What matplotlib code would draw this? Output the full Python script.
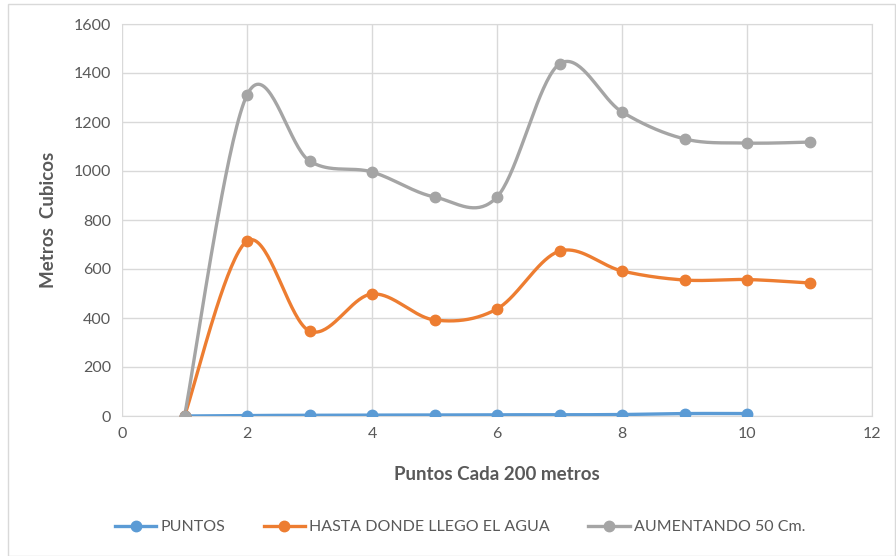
import numpy as np
import matplotlib.pyplot as plt
from matplotlib.patches import Rectangle

plt.rcParams['font.family'] = ['Lato', 'DejaVu Sans']

puntos = [1, 2, 3, 4, 5, 6, 7, 8, 9, 10, 11]
puntos_azul = [1, 2, 3, 4, 5, 6, 7, 8, 9, 10]
valores_puntos = [0, 2, 3, 4, 4, 5, 5, 6, 10, 10]
hasta_agua = [0, 714, 347, 498, 392, 437, 673, 592, 555, 557, 543]
aumentando = [0, 1310, 1041, 996, 894, 894, 1437, 1241, 1131, 1114, 1118]

etiquetas = ["PUNTOS", "HASTA DONDE LLEGO EL AGUA", "AUMENTANDO 50 Cm."]
colores = ["#5b9bd5", "#ed7d31", "#a5a5a5"]
texto_gris = "#595959"


def suavizar(x, y, n=40):
    # curva tipo Catmull-Rom (bezier cubica por tramo)
    x = np.asarray(x, float)
    y = np.asarray(y, float)
    px = np.concatenate([[x[0]], x, [x[-1]]])
    py = np.concatenate([[y[0]], y, [y[-1]]])
    xs, ys = [], []
    t = np.linspace(0, 1, n)
    for i in range(1, len(px) - 2):
        p0 = np.array([px[i], py[i]])
        p3 = np.array([px[i + 1], py[i + 1]])
        c1 = p0 + (np.array([px[i + 1], py[i + 1]]) - np.array([px[i - 1], py[i - 1]])) / 6
        c2 = p3 - (np.array([px[i + 2], py[i + 2]]) - np.array([px[i], py[i]])) / 6
        b = ((1 - t) ** 3)[:, None] * p0 + (3 * (1 - t) ** 2 * t)[:, None] * c1 \
            + (3 * (1 - t) * t ** 2)[:, None] * c2 + (t ** 3)[:, None] * p3
        xs.extend(b[:, 0])
        ys.extend(b[:, 1])
    return xs, ys


fig = plt.figure(figsize=(8.96, 5.56), dpi=100)
fig.patches.append(Rectangle((8 / 896, 0), 887 / 896, 552 / 556, transform=fig.transFigure,
                             fill=False, edgecolor="#d9d9d9", linewidth=1))
ax = fig.add_axes([122 / 896, 140 / 556, 750 / 896, 392 / 556])

series = [(puntos_azul, valores_puntos), (puntos, hasta_agua), (puntos, aumentando)]
for (xv, yv), lab, col in zip(series, etiquetas, colores):
    sx, sy = suavizar(xv, yv)
    ax.plot(sx, sy, color=col, linewidth=2.4, zorder=3)
    ax.plot(xv, yv, 'o', color=col, markersize=7.5, zorder=4)
    ax.plot([], [], '-o', color=col, linewidth=2.4, markersize=7.5, label=lab)

ax.set_xlim(0, 12)
ax.set_ylim(0, 1600)
ax.set_xticks(range(0, 13, 2))
ax.set_yticks(range(0, 1601, 200))
ax.grid(True, color="#d9d9d9", linewidth=1)
ax.set_axisbelow(True)
for s in ax.spines.values():
    s.set_color("#d9d9d9")
ax.spines['left'].set_visible(False)
ax.tick_params(length=0, labelsize=11.5, labelcolor=texto_gris, pad=8)

ax.set_xlabel("Puntos Cada 200 metros", fontsize=13.5, fontweight='bold', color=texto_gris, labelpad=18)
ax.set_ylabel("Metros  Cubicos", fontsize=13.5, fontweight='bold', color=texto_gris, labelpad=12)

fig.legend(loc='center', bbox_to_anchor=(0.5 + 12 / 896, 29 / 556), ncol=3, frameon=False,
           fontsize=11.5, labelcolor=texto_gris, handlelength=2.6, handletextpad=0.25,
           columnspacing=2.4)

fig.savefig("out.png", dpi=100)
